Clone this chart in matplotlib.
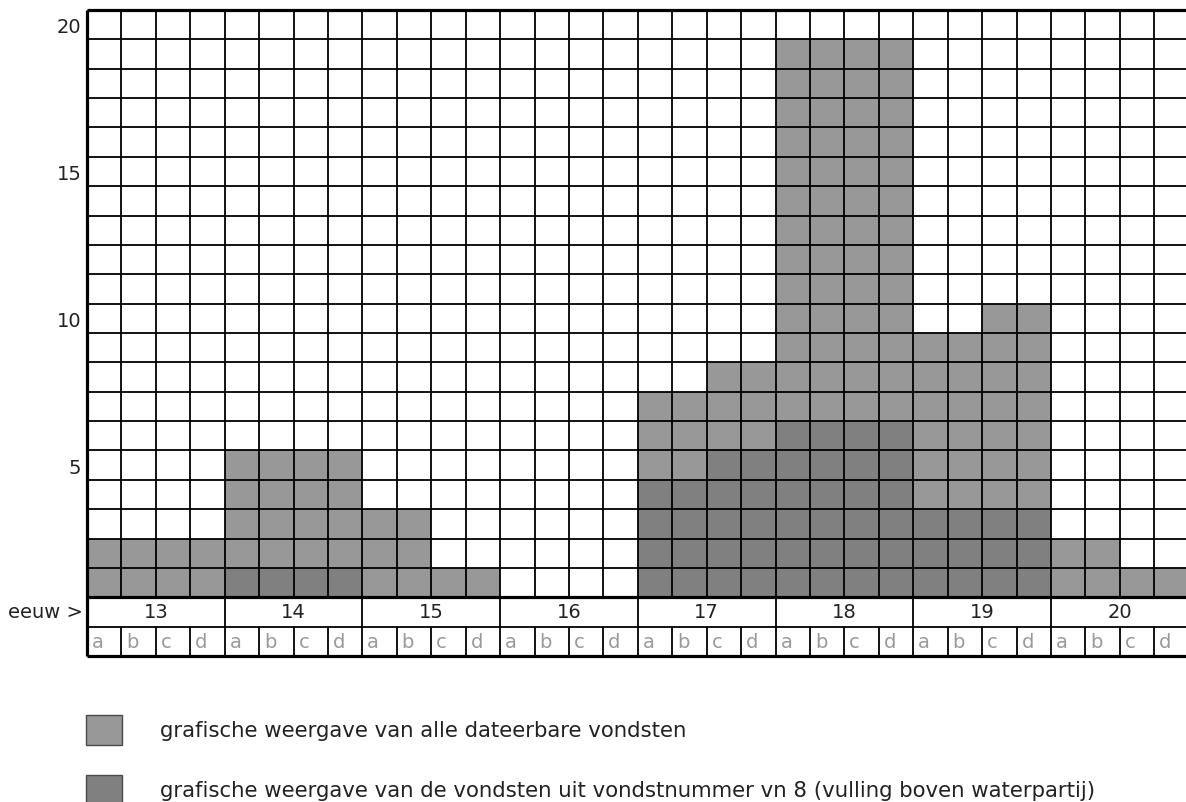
import matplotlib
matplotlib.use("Agg")
import matplotlib.pyplot as plt
from matplotlib.patches import Rectangle

centuries = ["13", "14", "15", "16", "17", "18", "19", "20"]
quarters = ["a", "b", "c", "d"]
# finds per quarter century, all datable finds (light grey)
all_finds = [2, 2, 2, 2, 5, 5, 5, 5, 3, 3, 1, 1, 0, 0, 0, 0,
             7, 7, 8, 8, 19, 19, 19, 19, 9, 9, 10, 10, 2, 2, 1, 1]
# finds from vn 8 (dark grey)
vn8_finds = [0, 0, 0, 0, 1, 1, 1, 1, 0, 0, 0, 0, 0, 0, 0, 0,
             4, 4, 5, 5, 6, 6, 6, 6, 3, 3, 3, 3, 0, 0, 0, 0]
ytick_values = [5, 10, 15, 20]
legend_labels = ["grafische weergave van alle dateerbare vondsten",
                 "grafische weergave van de vondsten uit vondstnummer vn 8 (vulling boven waterpartij)"]

light = "#989898"
dark = "#808080"
fs = 14
fs_legend = 15.3

# wide sans so the stretched look of the original text is kept
plt.rcParams["font.family"] = ["DejaVu Sans"]

W, H = 1186, 803
fig = plt.figure(figsize=(W / 100, H / 100), dpi=100)
ax = fig.add_axes([87 / W, (H - 657) / H, (W - 87) / W, 646 / H])

n = len(all_finds)
x = list(range(n))
ax.bar(x, all_finds, width=1, align="edge", color=light, zorder=1)
ax.bar(x, vn8_finds, width=1, align="edge", color=dark, zorder=2)

# grid lines
thin = 1.3
thick = 2.3
ax.hlines(range(1, 20), 0, n, color="black", lw=thin, zorder=3)
ax.hlines(-1, 0, n, color="black", lw=thin, zorder=3)
ax.vlines(range(1, n + 1), 0, 20, color="black", lw=thin, zorder=3)
ax.vlines(range(1, n + 1), -2, -1, color="black", lw=thin, zorder=3)
ax.vlines(range(4, n + 1, 4), -1, 0, color="black", lw=thin, zorder=3)
ax.hlines([0, -2, 20], 0, n, color="black", lw=thick, zorder=4, clip_on=False)
ax.vlines(0, -2, 20, color="black", lw=thick, zorder=4, clip_on=False)

# century row and quarter row
for k, c in enumerate(centuries):
    ax.text(4 * k + 2, -0.5, c, ha="center", va="center", fontsize=fs, color="#222222")
for i in range(n):
    ax.text(i + 0.14, -1.5, quarters[i % 4], ha="left", va="center",
            fontsize=fs, color="#9a9a9a")
ax.text(-0.13, -0.5, "eeuw >", ha="right", va="center", fontsize=fs, color="#222222")

ax.set_xlim(0, (W - 87) / 34.43)
ax.set_ylim(-2, 20)
ax.set_xticks([])
ax.set_yticks([v - 0.5 for v in ytick_values], [str(v) for v in ytick_values])
ax.tick_params(axis="y", length=0, pad=4, labelsize=fs, labelcolor="#222222")
for s in ax.spines.values():
    s.set_visible(False)

# legend
for j, (lab, col) in enumerate(zip(legend_labels, [light, dark])):
    top = 716 + j * 60
    fig.add_artist(Rectangle((86 / W, (H - top - 30) / H), 36 / W, 30 / H,
                             transform=fig.transFigure, facecolor=col,
                             edgecolor="#4a4a4a", lw=1))
    fig.text(160 / W, 1 - (top + 15) / H, lab, ha="left", va="center",
             fontsize=fs_legend, color="#222222")

fig.savefig("out.png", dpi=100)
